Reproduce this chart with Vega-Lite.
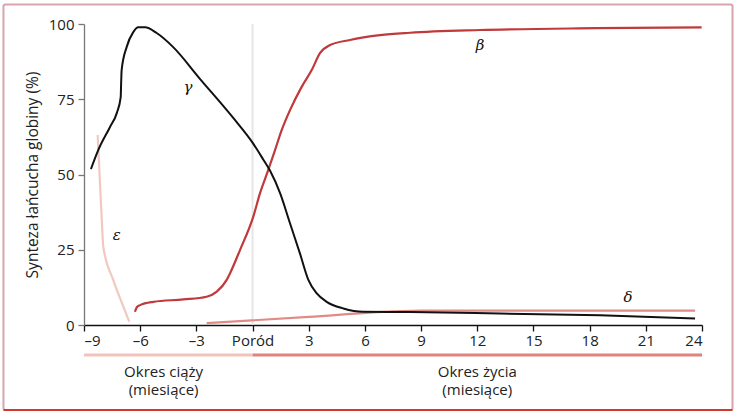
{
  "$schema": "https://vega.github.io/schema/vega-lite/v6.json",
  "width": 618,
  "height": 301,
  "autosize": {"type": "none"},
  "padding": {"left": 84, "top": 24, "right": 36, "bottom": 91},
  "background": "white",
  "config": {
    "view": {"stroke": null},
    "font": "Open Sans",
    "text": {"font": "Open Sans"}
  },
  "datasets": {
    "curves": [
      {"chain": "gamma", "x": -8.63, "y": 51.8},
      {"chain": "gamma", "x": -8.24, "y": 58.1},
      {"chain": "gamma", "x": -7.61, "y": 65.8},
      {"chain": "gamma", "x": -7.25, "y": 70.4},
      {"chain": "gamma", "x": -7.04, "y": 75.7},
      {"chain": "gamma", "x": -7.02, "y": 79.7},
      {"chain": "gamma", "x": -6.99, "y": 84.7},
      {"chain": "gamma", "x": -6.72, "y": 92.4},
      {"chain": "gamma", "x": -6.37, "y": 97.3},
      {"chain": "gamma", "x": -6.1, "y": 98.9},
      {"chain": "gamma", "x": -5.74, "y": 98.9},
      {"chain": "gamma", "x": -5.12, "y": 97.0},
      {"chain": "gamma", "x": -4.25, "y": 92.4},
      {"chain": "gamma", "x": -2.81, "y": 81.8},
      {"chain": "gamma", "x": -1.03, "y": 68.8},
      {"chain": "gamma", "x": 0.0, "y": 60.6},
      {"chain": "gamma", "x": 0.57, "y": 55.0},
      {"chain": "gamma", "x": 0.93, "y": 51.3},
      {"chain": "gamma", "x": 1.47, "y": 43.8},
      {"chain": "gamma", "x": 2.0, "y": 33.8},
      {"chain": "gamma", "x": 2.53, "y": 23.8},
      {"chain": "gamma", "x": 2.98, "y": 15.0},
      {"chain": "gamma", "x": 3.43, "y": 10.5},
      {"chain": "gamma", "x": 3.96, "y": 7.7},
      {"chain": "gamma", "x": 4.85, "y": 5.5},
      {"chain": "gamma", "x": 5.91, "y": 4.4},
      {"chain": "gamma", "x": 8.41, "y": 4.3},
      {"chain": "gamma", "x": 13.21, "y": 3.8},
      {"chain": "gamma", "x": 18.55, "y": 3.2},
      {"chain": "gamma", "x": 23.63, "y": 2.2},
      {"chain": "beta", "x": -6.28, "y": 4.4},
      {"chain": "beta", "x": -6.17, "y": 6.0},
      {"chain": "beta", "x": -6.01, "y": 6.6},
      {"chain": "beta", "x": -5.3, "y": 7.7},
      {"chain": "beta", "x": -3.7, "y": 8.5},
      {"chain": "beta", "x": -2.45, "y": 9.4},
      {"chain": "beta", "x": -1.91, "y": 11.1},
      {"chain": "beta", "x": -1.38, "y": 15.0},
      {"chain": "beta", "x": -1.2, "y": 17.2},
      {"chain": "beta", "x": -0.67, "y": 24.9},
      {"chain": "beta", "x": 0.04, "y": 36.0},
      {"chain": "beta", "x": 0.4, "y": 43.8},
      {"chain": "beta", "x": 0.84, "y": 51.5},
      {"chain": "beta", "x": 1.2, "y": 58.1},
      {"chain": "beta", "x": 1.56, "y": 64.8},
      {"chain": "beta", "x": 2.0, "y": 71.4},
      {"chain": "beta", "x": 2.63, "y": 79.2},
      {"chain": "beta", "x": 3.16, "y": 84.7},
      {"chain": "beta", "x": 3.6, "y": 90.3},
      {"chain": "beta", "x": 4.14, "y": 93.0},
      {"chain": "beta", "x": 5.2, "y": 94.7},
      {"chain": "beta", "x": 6.81, "y": 96.3},
      {"chain": "beta", "x": 8.41, "y": 97.1},
      {"chain": "beta", "x": 12.15, "y": 98.0},
      {"chain": "beta", "x": 18.38, "y": 98.6},
      {"chain": "beta", "x": 23.98, "y": 98.9},
      {"chain": "delta", "x": -2.45, "y": 0.6},
      {"chain": "delta", "x": 3.0, "y": 2.7},
      {"chain": "delta", "x": 7.5, "y": 4.5},
      {"chain": "delta", "x": 9.0, "y": 4.8},
      {"chain": "delta", "x": 23.63, "y": 4.8},
      {"chain": "epsilon", "x": -8.27, "y": 63.1},
      {"chain": "epsilon", "x": -8.18, "y": 51.5},
      {"chain": "epsilon", "x": -8.05, "y": 34.9},
      {"chain": "epsilon", "x": -7.97, "y": 26.0},
      {"chain": "epsilon", "x": -7.44, "y": 15.0},
      {"chain": "epsilon", "x": -6.9, "y": 6.1},
      {"chain": "epsilon", "x": -6.58, "y": 1.1}
    ],
    "labels": [
      {"chain": "gamma", "sym": "γ", "x": -3.45, "y": 79.1},
      {"chain": "beta", "sym": "β", "x": 12.15, "y": 93.0},
      {"chain": "delta", "sym": "δ", "x": 20.05, "y": 9.3},
      {"chain": "epsilon", "sym": "ε", "x": -7.25, "y": 29.9}
    ],
    "periods": [
      {"period": "ciaza", "start": -9, "end": 0, "mid": -4.75, "level": -10, "text": ["Okres ciąży", "(miesiące)"]},
      {"period": "zycie", "start": 0, "end": 24, "mid": 12, "level": -10, "text": ["Okres życia", "(miesiące)"]}
    ]
  },
  "encoding": {
    "x": {"type": "quantitative", "scale": {"domain": [-9, 24], "nice": false, "zero": false}},
    "y": {"type": "quantitative", "scale": {"domain": [0, 100], "nice": false}}
  },
  "resolve": {"scale": {"color": "independent"}},
  "layer": [
    {
      "data": {"values": [{}]},
      "mark": {"type": "rect", "fill": "transparent", "stroke": "#d9a4ac", "strokeWidth": 2, "cornerRadius": 2},
      "encoding": {
        "x": {"datum": -13.3, "type": "quantitative"},
        "x2": {"datum": 25.63},
        "y": {"datum": 106.48, "type": "quantitative"},
        "y2": {"datum": -28.24}
      }
    },
    {
      "data": {"values": [{}]},
      "mark": {"type": "rule", "stroke": "#cf3a30", "strokeWidth": 2},
      "encoding": {
        "x": {"datum": -13.3, "type": "quantitative"},
        "x2": {"datum": 25.63},
        "y": {"datum": -28.24, "type": "quantitative"}
      }
    },
    {
      "data": {"values": [{}]},
      "mark": {"type": "rule", "stroke": "#e6e6e6", "strokeWidth": 2},
      "encoding": {
        "x": {"datum": 0, "type": "quantitative"},
        "y": {"datum": 0, "type": "quantitative"},
        "y2": {"datum": 100}
      }
    },
    {
      "data": {"name": "periods"},
      "mark": {"type": "rule", "strokeWidth": 3},
      "encoding": {
        "x": {"field": "start", "type": "quantitative"},
        "x2": {"field": "end"},
        "y": {"field": "level", "type": "quantitative"},
        "color": {"field": "period", "type": "nominal", "scale": {"domain": ["ciaza", "zycie"], "range": ["#f3c3bb", "#e0837c"]}, "legend": null}
      }
    },
    {
      "data": {"name": "periods"},
      "mark": {"type": "text", "fontSize": 15, "color": "#222", "baseline": "top", "dy": 10, "lineHeight": 18},
      "encoding": {
        "x": {"field": "mid", "type": "quantitative"},
        "y": {"field": "level", "type": "quantitative"},
        "text": {"field": "text"}
      }
    },
    {
      "data": {"name": "curves"},
      "transform": [{"filter": "datum.chain !== 'gamma'"}],
      "mark": {"type": "line", "interpolate": "monotone", "strokeWidth": 2.2},
      "encoding": {
        "x": {
          "field": "x", "type": "quantitative",
          "axis": {
            "values": [-9, -6, -3, 0, 3, 6, 9, 12, 15, 18, 21, 24],
            "labelExpr": "datum.value === 0 ? 'Poród' : (datum.value < 0 ? '–' + abs(datum.value) : datum.label)",
            "title": null, "grid": false, "tickSize": 6, "labelPadding": 2,
            "labelFontSize": 15, "labelFont": "Open Sans", "labelColor": "#222",
            "domainColor": "#111", "tickColor": "#111", "domainWidth": 1.3, "tickWidth": 1.3
          }
        },
        "y": {
          "field": "y", "type": "quantitative",
          "axis": {
            "values": [0, 25, 50, 75, 100],
            "title": "Synteza łańcucha globiny (%)", "titleFontSize": 15.5, "titleFont": "Open Sans",
            "titleFontWeight": "normal", "titleColor": "#222", "titlePadding": 8,
            "grid": false, "tickSize": 6, "labelPadding": 4,
            "labelFontSize": 15, "labelFont": "Open Sans", "labelColor": "#222",
            "domainColor": "#777", "tickColor": "#777", "domainWidth": 1.3, "tickWidth": 1.3
          }
        },
        "color": {"field": "chain", "type": "nominal", "scale": {"domain": ["epsilon", "delta", "beta"], "range": ["#f1c9c1", "#e08c86", "#c0393b"]}, "legend": null},
        "detail": {"field": "chain"}
      }
    },
    {
      "data": {"name": "curves"},
      "transform": [{"filter": "datum.chain === 'gamma'"}],
      "mark": {"type": "line", "interpolate": "monotone", "strokeWidth": 2, "color": "#111"},
      "encoding": {
        "x": {"field": "x", "type": "quantitative"},
        "y": {"field": "y", "type": "quantitative"}
      }
    },
    {
      "data": {"name": "labels"},
      "mark": {"type": "text", "fontSize": 15, "fontStyle": "italic", "font": "DejaVu Serif", "color": "#111", "baseline": "middle", "align": "center"},
      "encoding": {
        "x": {"field": "x", "type": "quantitative"},
        "y": {"field": "y", "type": "quantitative"},
        "text": {"field": "sym"}
      }
    }
  ]
}
